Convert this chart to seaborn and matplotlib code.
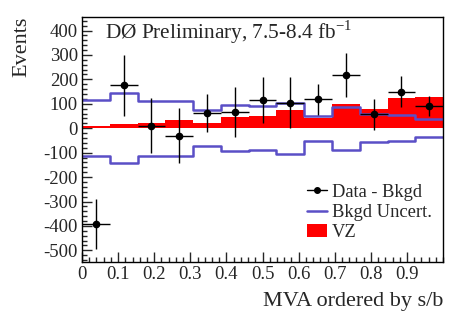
import numpy as np
import pandas as pd
import matplotlib
matplotlib.use("Agg")
import matplotlib.pyplot as plt
import seaborn as sns
from matplotlib.ticker import MultipleLocator
from matplotlib.lines import Line2D
from matplotlib.patches import Patch

# ---- data ----
n_bins = 13
bin_edges = np.linspace(0.0, 1.0, n_bins + 1)
bin_centers = (bin_edges[:-1] + bin_edges[1:]) / 2
data_minus_bkgd = [-392, 176, 10, -31, 63, 66, 115, 105, 118, 219, 57, 150, 90]
data_err = [104, 125, 112, 112, 79, 103, 94, 104, 62, 90, 64, 63, 41]
vz_signal = [11, 19, 22, 33, 23, 46, 49, 75, 41, 98, 78, 124, 128]
bkgd_uncert = [115, 143, 112, 112, 74, 95, 90, 104, 52, 88, 58, 54, 37]

x_ticks = [0, 0.1, 0.2, 0.3, 0.4, 0.5, 0.6, 0.7, 0.8, 0.9]
x_tick_labels = ["0", "0.1", "0.2", "0.3", "0.4", "0.5", "0.6", "0.7", "0.8", "0.9"]
y_ticks = [-500, -400, -300, -200, -100, 0, 100, 200, 300, 400]

sns.set_style("ticks")
plt.rcParams["font.family"] = ["Liberation Serif", "DejaVu Serif"]
plt.rcParams["axes.unicode_minus"] = False

fig = plt.figure(figsize=(4.63, 3.22), dpi=100)
ax = fig.add_axes([0.177, 0.186, 0.78, 0.761])

df = pd.DataFrame({"x": bin_centers, "vz": vz_signal})
sns.histplot(data=df, x="x", weights="vz", bins=n_bins, binrange=(0.0, 1.0),
             element="step", fill=True, color="#ff0000", alpha=1.0,
             linewidth=0, ax=ax)

blue = "#5a4fc6"
unc = np.array(bkgd_uncert, dtype=float)
up = np.append(unc, unc[-1])
sns.lineplot(x=bin_edges, y=up, drawstyle="steps-post", color=blue, lw=1.8, ax=ax)
sns.lineplot(x=bin_edges, y=-up, drawstyle="steps-post", color=blue, lw=1.8, ax=ax)

half_w = (bin_edges[1] - bin_edges[0]) / 2
ax.errorbar(bin_centers, data_minus_bkgd, yerr=data_err, xerr=half_w, fmt="o",
            color="black", ms=4.5, elinewidth=1.0, capsize=0, zorder=5)

ax.set_xlim(0, 1.0)
ax.set_ylim(-548, 455)
ax.set_xticks(x_ticks)
ax.set_xticklabels(x_tick_labels)
ax.set_yticks(y_ticks)
ax.xaxis.set_minor_locator(MultipleLocator(0.02))
ax.yaxis.set_minor_locator(MultipleLocator(20))
ax.tick_params(which="major", direction="in", length=7, width=1.0, labelsize=13.5,
               top=False, right=False, pad=3)
ax.tick_params(which="minor", direction="in", length=3.5, width=1.0,
               top=False, right=False)
for s in ax.spines.values():
    s.set_visible(True)
    s.set_linewidth(1.0)
    s.set_color("black")

ax.set_xlabel("MVA ordered by s/b", fontsize=16, loc="right", labelpad=6)
ax.set_ylabel("Events", fontsize=16, loc="top", labelpad=9)
ax.text(0.065, 0.912, r"DØ Preliminary, 7.5-8.4 fb$^{\mathregular{-1}}$", transform=ax.transAxes,
        fontsize=15.3, va="baseline", ha="left")

handles = [
    Line2D([0], [0], color="black", marker="o", ms=4, lw=1.0),
    Line2D([0], [0], color=blue, lw=1.8),
    Patch(facecolor="#ff0000", edgecolor="none"),
]
labels = ["Data - Bkgd", "Bkgd Uncert.", "VZ"]
ax.legend(handles, labels, loc="lower right", bbox_to_anchor=(1.0, 0.04), frameon=False,
          fontsize=13.3, handlelength=1.1, handletextpad=0.25, labelspacing=0.17,
          borderaxespad=0.2)

fig.savefig("out.png", dpi=100)
